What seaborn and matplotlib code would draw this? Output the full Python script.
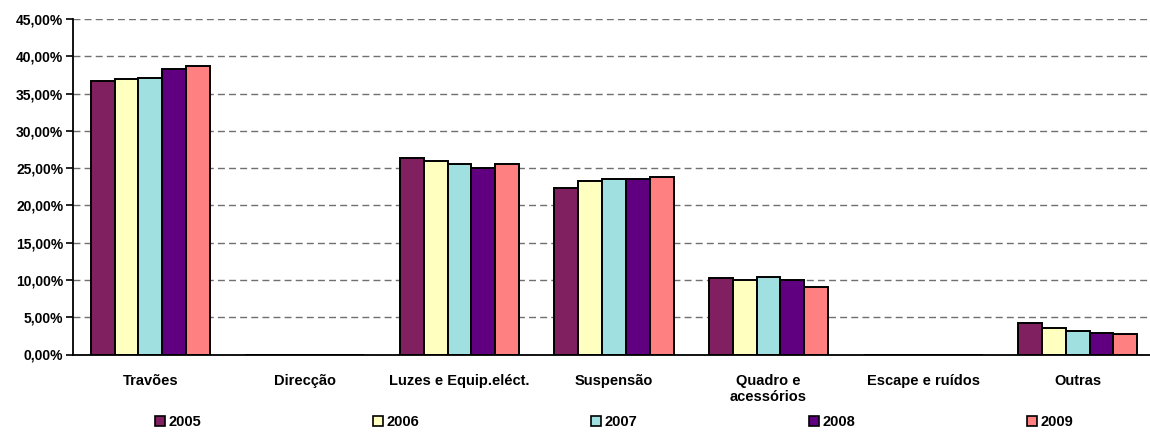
import pandas as pd
import seaborn as sns
import matplotlib
matplotlib.use("Agg")
import matplotlib.pyplot as plt
from matplotlib.patches import Patch
from matplotlib.ticker import FuncFormatter

categorias = ["Travões", "Direcção", "Luzes e Equip.eléct.", "Suspensão",
              "Quadro e\nacessórios", "Escape e ruídos", "Outras"]
anos = ["2005", "2006", "2007", "2008", "2009"]

# percentagens (Direcção e Escape sem barras)
v2005 = [36.7, 0.0, 26.4, 22.3, 10.2, 0.0, 4.2]
v2006 = [36.9, 0.0, 26.0, 23.3, 10.0, 0.0, 3.5]
v2007 = [37.1, 0.0, 25.5, 23.5, 10.4, 0.0, 3.1]
v2008 = [38.3, 0.0, 25.0, 23.5, 10.0, 0.0, 2.9]
v2009 = [38.7, 0.0, 25.6, 23.8, 9.05, 0.0, 2.7]

cores = ["#802060", "#FFFFC0", "#A0E0E0", "#600080", "#FF8080"]

rows = []
for ano, vals in zip(anos, [v2005, v2006, v2007, v2008, v2009]):
    for cat, v in zip(categorias, vals):
        rows.append({"categoria": cat, "ano": ano, "valor": v / 100.0})
df = pd.DataFrame(rows)

sns.set_theme(style="white")
plt.rcParams["font.family"] = ["Liberation Sans", "DejaVu Sans"]
plt.rcParams["font.weight"] = "bold"
plt.rcParams["text.color"] = "black"
plt.rcParams["xtick.color"] = "black"
plt.rcParams["ytick.color"] = "black"

fig = plt.figure(figsize=(11.5, 4.32), dpi=100)
ax = fig.add_axes([73 / 1150, 77.5 / 432, 1082 / 1150, 335.5 / 432])

sns.barplot(data=df, x="categoria", y="valor", hue="ano", order=categorias,
            hue_order=anos, palette=dict(zip(anos, cores)), width=0.77,
            saturation=1, edgecolor="black", linewidth=1.4, legend=False, ax=ax)

ax.set_xlim(-0.5, 6.5)
ax.set_ylim(0, 0.45)
ax.set_yticks([i * 0.05 for i in range(10)])
ax.yaxis.set_major_formatter(FuncFormatter(lambda v, p: f"{v * 100:.2f}".replace(".", ",") + "%"))
ax.yaxis.grid(True, linestyle=(0, (5, 3)), color="#707070", linewidth=1)
ax.set_axisbelow(True)

ax.set_xticks([i + 0.5 for i in range(7)], minor=True)
ax.tick_params(axis="x", which="major", length=0, pad=14, labelsize=10.5, labelcolor="black")
ax.tick_params(axis="x", which="minor", length=5, width=1.2, color="black", direction="out")
ax.tick_params(axis="y", length=5, width=1.2, color="black", direction="out", labelsize=10,
               pad=2, labelcolor="black")
ax.tick_params(left=True, bottom=True)
for lab in ax.get_xticklabels() + ax.get_yticklabels():
    lab.set_fontweight("bold")

for s in ["top", "right"]:
    ax.spines[s].set_visible(False)
for s in ["left", "bottom"]:
    ax.spines[s].set_color("black")
    ax.spines[s].set_linewidth(1.3)
ax.set_xlabel("")
ax.set_ylabel("")

handles = [Patch(facecolor=c, edgecolor="black", linewidth=1.2, label=a) for a, c in zip(anos, cores)]
fig.legend(handles=handles, loc="center", bbox_to_anchor=(614 / 1150, 1 - 422 / 432),
           ncol=5, frameon=False, handlelength=0.7, handleheight=0.7,
           handletextpad=0.2, columnspacing=11.8, labelcolor="black",
           prop={"weight": "bold", "size": 10.5})

fig.savefig("out.png", dpi=100)
